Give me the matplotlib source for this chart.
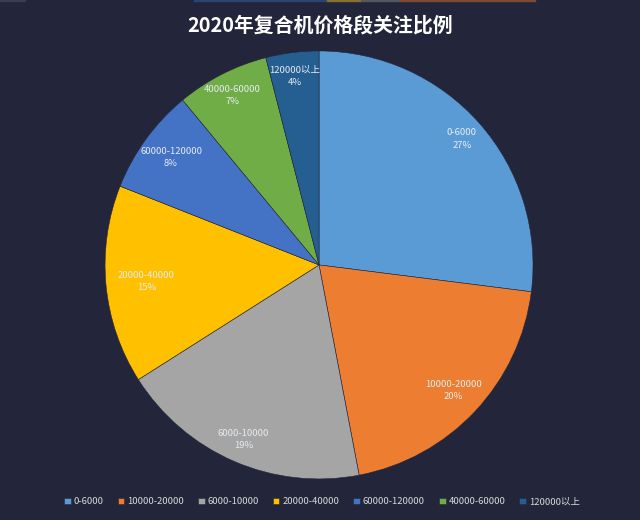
import matplotlib.pyplot as plt
from matplotlib.patches import Rectangle
import numpy as np

plt.rcParams['font.family'] = ['Noto Sans CJK SC', 'DejaVu Sans']

# 数据
categories = ["0-6000", "10000-20000", "6000-10000", "20000-40000",
              "60000-120000", "40000-60000", "120000以上"]
shares = [27, 20, 19, 15, 8, 7, 4]
colors = ["#5B9BD5", "#ED7D31", "#A5A5A5", "#FFC000",
          "#4472C4", "#70AD47", "#255E91"]
# 标签离圆心的距离（占半径比例）
label_r = [0.89, 0.86, 0.89, 0.81, 0.855, 0.89, 0.89]

bg = "#23263A"

fig = plt.figure(figsize=(6.4, 5.2), dpi=100, facecolor=bg)

# 顶部残留的色条
for x0, x1, c in [(194, 327, "#2A4470"), (327, 361, "#8A7030"),
                  (361, 400, "#55575F"), (400, 535, "#7E4A34"),
                  (0, 25, "#3A3D52")]:
    fig.patches.append(Rectangle((x0 / 640, 1 - 1.3 / 520), (x1 - x0) / 640, 1.3 / 520,
                                 transform=fig.transFigure, color=c, zorder=0))

ax = fig.add_axes([0.164, 0.079, 0.669, 0.823])
ax.set_facecolor(bg)

wedges, _ = ax.pie(shares, colors=colors, startangle=90, counterclock=False,
                   radius=1, wedgeprops=dict(edgecolor=bg, linewidth=0.4))
ax.set_xlim(-1, 1)
ax.set_ylim(-1, 1)
ax.set_aspect("equal")
ax.axis("off")

# 扇区标签
for w, cat, s, r in zip(wedges, categories, shares, label_r):
    ang = np.deg2rad((w.theta1 + w.theta2) / 2)
    ax.text(r * np.cos(ang), r * np.sin(ang), f"{cat}\n{s}%",
            ha="center", va="center", fontsize=6.8, color="#E6ECF2",
            linespacing=1.45)

fig.text(0.5, 0.952, "2020年复合机价格段关注比例", ha="center", va="center",
         fontsize=14.3, fontweight="bold", color="white")

leg = fig.legend(wedges, categories, loc="center", bbox_to_anchor=(0.503, 0.035),
                 ncol=7, frameon=False, fontsize=6.8, labelcolor="#D9D9D9",
                 handlelength=0.7, handleheight=0.7, handletextpad=0.3,
                 columnspacing=1.5)

fig.savefig("out.png", dpi=100, facecolor=bg)
